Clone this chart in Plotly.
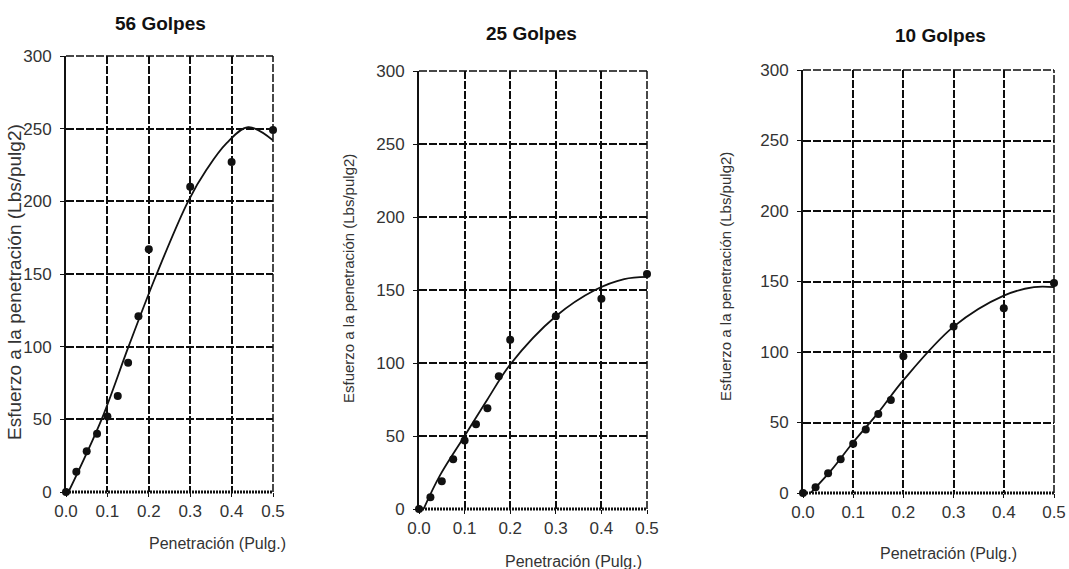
import plotly.graph_objects as go

# Penetración (pulg.) at which each load reading was taken
penetracion = [0.0, 0.025, 0.05, 0.075, 0.1, 0.125, 0.15, 0.175, 0.2, 0.3, 0.4, 0.5]

# Measured penetration stress (Lbs/pulg2) for each compaction energy
esfuerzo_56 = [0, 14, 28, 40, 52, 66, 89, 121, 167, 210, 227, 249]
esfuerzo_25 = [0, 8, 19, 34, 47, 58, 69, 91, 116, 132, 144, 161]
esfuerzo_10 = [0, 4, 14, 24, 35, 45, 56, 66, 97, 118, 131, 149]

# Trend curves drawn through the readings
curva_56_x = [0.006, 0.086, 0.151, 0.219, 0.295, 0.34, 0.388, 0.44, 0.5]
curva_56_y = [0, 50, 100, 150, 200, 222, 240, 251, 242]
curva_25_x = [0.01, 0.046, 0.1, 0.15, 0.2, 0.3, 0.386, 0.45, 0.5]
curva_25_y = [0, 23, 50, 75, 99, 132, 150, 157.5, 159]
curva_10_x = [0.015, 0.056, 0.1, 0.15, 0.2, 0.3, 0.4, 0.46, 0.5]
curva_10_y = [0, 16, 36, 57, 80, 118, 140, 146, 146]

titulos = ["56 Golpes", "25 Golpes", "10 Golpes"]
x_ticks = [0.0, 0.1, 0.2, 0.3, 0.4, 0.5]
y_ticks = [0, 50, 100, 150, 200, 250, 300]

W, H = 1069, 569
FONT = "Liberation Sans, Arial, sans-serif"
INK = "#111111"

def px(x):
    return x / W

def py(y):
    return 1 - y / H

# plot-area pixel boxes (left, right, top, bottom) for the three panels
boxes = [(66, 273, 56, 492), (419, 647, 71, 509), (803, 1054, 70, 493)]
title_pos = [(160, 23), (531, 33), (940, 35)]
xtitle_pos = [(217, 543), (573, 561), (948, 553)]
ytitle_pos = [(14, 282, 19), (348, 279, 15), (726, 277, 15)]

series = [
    (esfuerzo_56, curva_56_x, curva_56_y),
    (esfuerzo_25, curva_25_x, curva_25_y),
    (esfuerzo_10, curva_10_x, curva_10_y),
]

fig = go.Figure()
layout = dict(
    width=W, height=H,
    margin=dict(l=0, r=0, t=0, b=0, pad=0, autoexpand=False),
    paper_bgcolor="white", plot_bgcolor="white",
    showlegend=False,
    font=dict(family=FONT, color="#222"),
    annotations=[], shapes=[],
)

DASH = "8px,2px"
GRID_INK = "#0d0d0d"
grid = dict(showgrid=True, gridcolor=GRID_INK, gridwidth=1.5, griddash=DASH)

for i, (vals, cx, cy) in enumerate(series):
    n = "" if i == 0 else str(i + 1)
    xa, ya = "x" + n, "y" + n
    l, r, t, b = boxes[i]

    fig.add_trace(go.Scatter(
        x=cx, y=cy, mode="lines",
        line=dict(color=INK, width=1.8, shape="spline", smoothing=1),
        xaxis=xa, yaxis=ya, cliponaxis=False, hoverinfo="skip",
    ))
    fig.add_trace(go.Scatter(
        x=penetracion, y=vals, mode="markers",
        marker=dict(size=8, color=INK),
        xaxis=xa, yaxis=ya, cliponaxis=False,
    ))

    layout["xaxis" + n] = dict(
        domain=[px(l), px(r)], anchor=ya, range=[0, 0.5],
        tickvals=x_ticks, tickformat=".1f",
        ticks="outside", ticklen=4, tickwidth=1.3, tickcolor=INK,
        tickfont=dict(size=17, color="#333", family=FONT),
        ticklabelstandoff=0, automargin=False,
        zeroline=False, showline=False, **grid,
    )
    layout["yaxis" + n] = dict(
        domain=[py(b), py(t)], anchor=xa, range=[0, 300],
        tickvals=y_ticks,
        ticks="outside", ticklen=4, tickwidth=1.3, tickcolor=INK,
        tickfont=dict(size=17, color="#333", family=FONT),
        ticklabelstandoff=5, automargin=False,
        zeroline=False, showline=True, linecolor=INK, linewidth=2, **grid,
    )

    # dashed top and right edges of the frame
    for x0, x1, y0, y1 in [(0, 1, 1, 1), (1, 1, 0, 1)]:
        layout["shapes"].append(dict(
            type="line", xref=xa + " domain", yref=ya + " domain",
            x0=x0, x1=x1, y0=y0, y1=y1, layer="below",
            line=dict(color=GRID_INK, width=1.5, dash=DASH),
        ))
    # bottom axis drawn as a heavy dotted rule
    layout["shapes"].append(dict(
        type="line", xref=xa + " domain", yref=ya + " domain",
        x0=0, x1=1, y0=0, y1=0, layer="above",
        line=dict(color=INK, width=3, dash="2px,1px"),
    ))

    tx, ty = title_pos[i]
    layout["annotations"].append(dict(
        x=px(tx), y=py(ty), xref="paper", yref="paper", text="<b>" + titulos[i] + "</b>",
        showarrow=False, xanchor="center", yanchor="middle",
        font=dict(size=19, color=INK, family=FONT),
    ))
    ax_, ay_ = xtitle_pos[i]
    layout["annotations"].append(dict(
        x=px(ax_), y=py(ay_), xref="paper", yref="paper", text="Penetración (Pulg.)",
        showarrow=False, xanchor="center", yanchor="middle",
        font=dict(size=16, color="#333", family=FONT),
    ))
    yx, yy, ys = ytitle_pos[i]
    layout["annotations"].append(dict(
        x=px(yx), y=py(yy), xref="paper", yref="paper",
        text="Esfuerzo a la penetración (Lbs/pulg2)", textangle=-90,
        showarrow=False, xanchor="center", yanchor="middle",
        font=dict(size=ys, color="#333", family=FONT),
    ))

fig.update_layout(**layout)
fig.write_html("out.html")
